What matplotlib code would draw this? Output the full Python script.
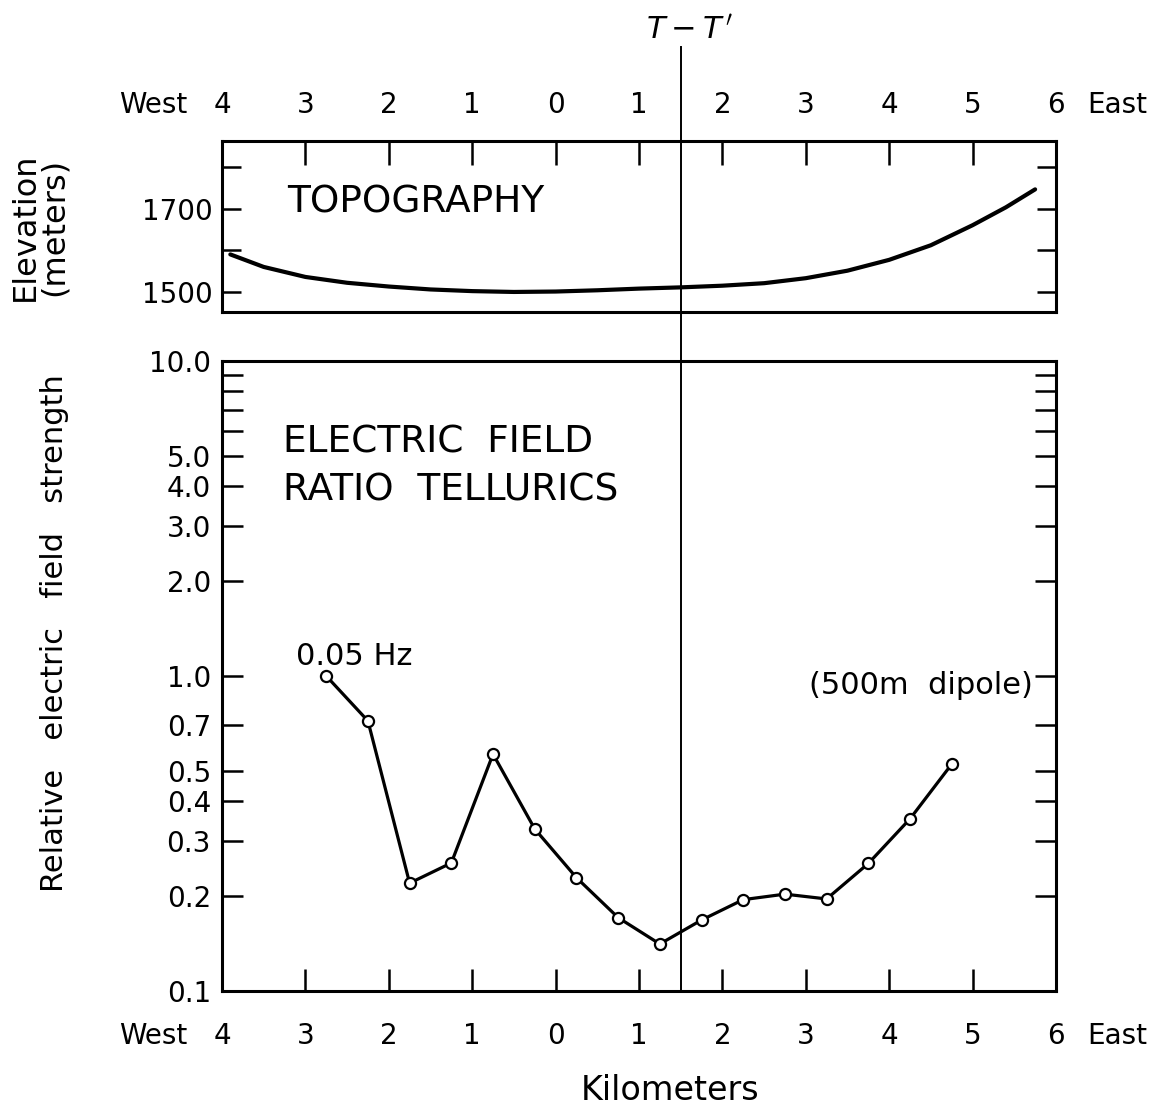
import matplotlib
matplotlib.use("Agg")
import matplotlib.pyplot as plt
from matplotlib.ticker import FixedLocator, NullFormatter
from matplotlib.lines import Line2D
import matplotlib.transforms as mtransforms

# ---------------- data ----------------
x_ticks_km = [-4, -3, -2, -1, 0, 1, 2, 3, 4, 5, 6]
x_tick_labels = ["4", "3", "2", "1", "0", "1", "2", "3", "4", "5", "6"]

topo_km = [-3.9, -3.5, -3.0, -2.5, -2.0, -1.5, -1.0, -0.5, 0.0, 0.5, 1.0,
           1.5, 2.0, 2.5, 3.0, 3.5, 4.0, 4.5, 5.0, 5.4, 5.75]
topo_elev = [1590, 1560, 1536, 1522, 1513, 1506, 1502, 1500, 1501, 1504, 1508,
             1511, 1515, 1521, 1533, 1551, 1577, 1612, 1660, 1703, 1746]
topo_yticks = [1500, 1600, 1700, 1800]
topo_ylabels = ["1500", "", "1700", ""]

field_km = [-2.75, -2.25, -1.75, -1.25, -0.75, -0.25, 0.25, 0.75, 1.25,
            1.75, 2.25, 2.75, 3.25, 3.75, 4.25, 4.75]
field_ratio = [1.0, 0.72, 0.22, 0.255, 0.565, 0.327, 0.229, 0.171, 0.141,
               0.168, 0.195, 0.203, 0.196, 0.254, 0.352, 0.525]
field_major = [0.1, 0.2, 0.3, 0.4, 0.5, 0.7, 1.0, 2.0, 3.0, 4.0, 5.0, 10.0]
field_major_labels = ["0.1", "0.2", "0.3", "0.4", "0.5", "0.7", "1.0",
                      "2.0", "3.0", "4.0", "5.0", "10.0"]
field_minor = [6.0, 7.0, 8.0, 9.0]

section_km = 1.5  # T-T' position

# ---------------- style ----------------
plt.rcParams['font.family'] = ['DejaVu Sans']
LW_AX = 2.2
TICK_FS = 20

fig = plt.figure(figsize=(11.69, 11.11), dpi=100)
ax1 = fig.add_axes([0.1899, 0.7192, 0.7134, 0.1539])
ax2 = fig.add_axes([0.1899, 0.1080, 0.7134, 0.5671])

for ax in (ax1, ax2):
    for s in ax.spines.values():
        s.set_linewidth(LW_AX)
    ax.set_xlim(-4, 6)

# ---- topography panel ----
ax1.plot(topo_km, topo_elev, color='black', lw=3.0, solid_capstyle='round',
         solid_joinstyle='round')
ax1.set_ylim(1452, 1862)
ax1.set_yticks(topo_yticks)
ax1.set_yticklabels(topo_ylabels)
ax1.set_xticks(x_ticks_km)
ax1.set_xticklabels(x_tick_labels)
ax1.tick_params(axis='x', which='both', direction='in', top=True, bottom=False,
                labeltop=True, labelbottom=False, length=17, width=1.8,
                pad=16, labelsize=TICK_FS)
ax1.tick_params(axis='y', which='both', direction='in', left=True, right=True,
                length=14, width=1.8, pad=7, labelsize=TICK_FS)
ax1.text(0.078, 0.64, "TOPOGRAPHY", transform=ax1.transAxes, fontsize=27,
         ha='left', va='center')

# ---- electric field panel ----
ax2.set_yscale('log')
ax2.set_ylim(0.1, 10)
ax2.plot(field_km, field_ratio, color='black', lw=2.3, marker='o',
         markersize=8, markerfacecolor='white', markeredgecolor='black',
         markeredgewidth=1.6)
ax2.yaxis.set_major_locator(FixedLocator(field_major))
ax2.set_yticklabels(field_major_labels)
ax2.yaxis.set_minor_locator(FixedLocator(field_minor))
ax2.yaxis.set_minor_formatter(NullFormatter())
ax2.set_xticks(x_ticks_km)
ax2.set_xticklabels(x_tick_labels)
ax2.tick_params(axis='x', which='both', direction='in', top=False, bottom=True,
                length=16, width=1.8, pad=22, labelsize=TICK_FS)
ax2.tick_params(axis='y', which='both', direction='in', left=True, right=True,
                length=15, width=1.8, pad=8, labelsize=TICK_FS)

ax2.text(0.073, 0.87, "ELECTRIC  FIELD", transform=ax2.transAxes,
         fontsize=27, ha='left', va='center')
ax2.text(0.073, 0.794, "RATIO  TELLURICS", transform=ax2.transAxes,
         fontsize=27, ha='left', va='center')
ax2.text(-3.11, 1.15, "0.05 Hz", fontsize=22, ha='left', va='center')
ax2.text(5.72, 0.93, "(500m  dipole)", fontsize=22, ha='right', va='center')

# West / East labels for both axes
tr1 = mtransforms.blended_transform_factory(ax1.transData, ax1.transAxes)
tr2 = mtransforms.blended_transform_factory(ax2.transData, ax2.transAxes)
up = mtransforms.ScaledTranslation(0, 22/100, fig.dpi_scale_trans)
down = mtransforms.ScaledTranslation(0, -31/100, fig.dpi_scale_trans)
ax1.text(-4.41, 1.0, "West", transform=tr1 + up, fontsize=TICK_FS, ha='right', va='bottom')
ax1.text(6.38, 1.0, "East", transform=tr1 + up, fontsize=TICK_FS, ha='left', va='bottom')
ax2.text(-4.41, 0.0, "West", transform=tr2 + down, fontsize=TICK_FS, ha='right', va='top')
ax2.text(6.38, 0.0, "East", transform=tr2 + down, fontsize=TICK_FS, ha='left', va='top')

# T-T' section line across both panels
trl = mtransforms.blended_transform_factory(ax2.transData, fig.transFigure)
fig.add_artist(Line2D([section_km, section_km], [0.1080, 1 - 47/1111],
                      transform=trl, color='black', lw=1.4))
fig.text(690/1169, 1 - 30/1111, r"$T-T\,'$", fontsize=22, ha='center', va='center')

# axis titles
fig.text(40/1169, 1 - 227/1111, "Elevation\n(meters)", rotation=90,
         fontsize=23, ha='center', va='center', multialignment='center',
         linespacing=0.92)
fig.text(55/1169, 1 - 633/1111, "Relative   electric   field   strength",
         rotation=90, fontsize=22, ha='center', va='center')
fig.text(670/1169, 1 - 1090/1111, "Kilometers", fontsize=24, ha='center',
         va='center')

fig.savefig("out.png", dpi=100)
